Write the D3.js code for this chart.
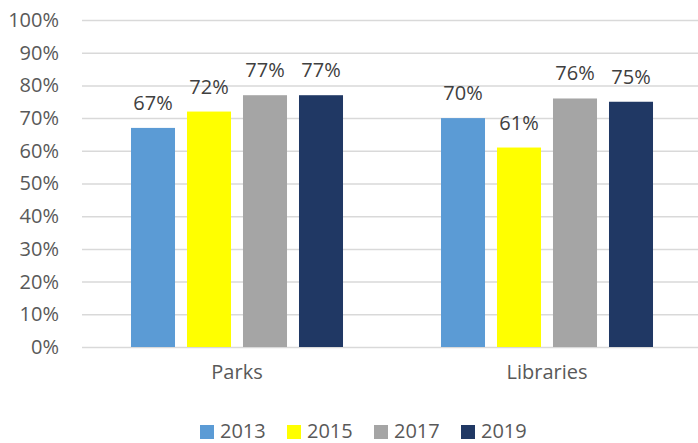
<!DOCTYPE html>
<html>
<head>
<meta charset="utf-8">
<script src="https://cdn.jsdelivr.net/npm/d3@7"></script>
<style>
  body { margin: 0; background: #fff; }
  text { font-family: "Open Sans", sans-serif; }
</style>
</head>
<body>
<div id="chart"></div>
<script>
var categories = ["Parks", "Libraries"];
var years = ["2013", "2015", "2017", "2019"];
var colors = ["#5b9bd5", "#ffff00", "#a5a5a5", "#203864"];
// percent values per year, in category order
var v2013 = [67, 70];
var v2015 = [72, 61];
var v2017 = [77, 76];
var v2019 = [77, 75];
var yTicks = [0, 10, 20, 30, 40, 50, 60, 70, 80, 90, 100];

var series = [v2013, v2015, v2017, v2019];

var svg = d3.select("#chart").append("svg").attr("width", 698).attr("height", 443),
    margin = {top: 20, right: -4, bottom: 96, left: 82},
    width = +svg.attr("width") - margin.left - margin.right,
    height = +svg.attr("height") - margin.top - margin.bottom;

var x0 = d3.scaleBand().domain(categories).range([0, width]);
var x1 = d3.scaleBand().domain(years).range([0, 224]).paddingInner(0.214).paddingOuter(0.107);
var y = d3.scaleLinear().domain([0, 100]).range([height, 0]);
var color = d3.scaleOrdinal().domain(years).range(colors);

var g = svg.append("g").attr("transform", "translate(" + margin.left + "," + margin.top + ")");

// gridlines
g.append("g")
    .attr("class", "grid")
    .call(d3.axisLeft(y).tickValues(yTicks).tickSize(-width - 10).tickFormat(""))
    .call(function(s) { s.select(".domain").remove(); })
    .selectAll("line").attr("stroke", "#d9d9d9").attr("stroke-width", 1.5);

// y axis labels
g.append("g")
    .call(d3.axisLeft(y).tickValues(yTicks).tickSize(0).tickPadding(23).tickFormat(function(d) { return d + "%"; }))
    .call(function(s) { s.select(".domain").remove(); })
    .selectAll("text")
    .attr("fill", "#595959")
    .style("font-size", "20px")
    .style("font-family", "'Open Sans', sans-serif");

// category labels
g.append("g")
    .attr("transform", "translate(0," + height + ")")
    .call(d3.axisBottom(x0).tickSize(0).tickPadding(18))
    .call(function(s) { s.select(".domain").remove(); })
    .selectAll("text")
    .attr("fill", "#595959")
    .style("font-size", "20px")
    .style("font-family", "'Open Sans', sans-serif");

var groups = g.selectAll(".cat")
    .data(categories)
    .enter().append("g")
    .attr("class", "cat")
    .attr("transform", function(d) { return "translate(" + (x0(d) + (x0.bandwidth() - 224) / 2) + ",0)"; });

var barData = function(c, i) {
    return years.map(function(yr, j) { return {year: yr, value: series[j][i]}; });
};

groups.selectAll("rect")
    .data(barData)
    .enter().append("rect")
    .attr("x", function(d) { return x1(d.year); })
    .attr("width", x1.bandwidth())
    .attr("y", function(d) { return y(d.value); })
    .attr("height", function(d) { return height - y(d.value); })
    .attr("fill", function(d) { return color(d.year); });

groups.selectAll(".lbl")
    .data(barData)
    .enter().append("text")
    .attr("class", "lbl")
    .attr("x", function(d) { return x1(d.year) + x1.bandwidth() / 2; })
    .attr("y", function(d) { return y(d.value) - 18; })
    .attr("text-anchor", "middle")
    .attr("fill", "#404040")
    .style("font-size", "20px")
    .text(function(d) { return d.value + "%"; });

// legend
var legend = svg.append("g").attr("transform", "translate(200,425)");
var li = legend.selectAll("g")
    .data(years)
    .enter().append("g")
    .attr("transform", function(d, i) { return "translate(" + (i * 87) + ",0)"; });
li.append("rect").attr("width", 14).attr("height", 14).attr("fill", function(d) { return color(d); });
li.append("text")
    .attr("x", 20)
    .attr("y", 13)
    .attr("fill", "#595959")
    .style("font-size", "20px")
    .text(function(d) { return d; });
</script>
</body>
</html>
